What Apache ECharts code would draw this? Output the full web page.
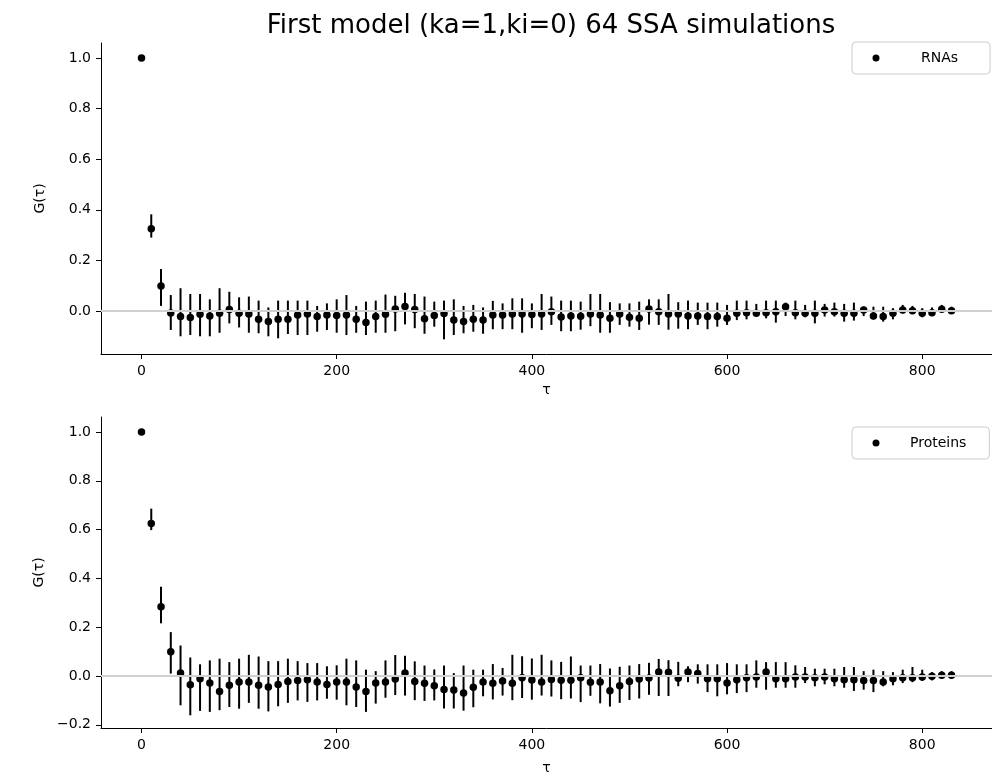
<!DOCTYPE html>
<html>
<head>
<meta charset="utf-8">
<script src="https://cdn.jsdelivr.net/npm/echarts@6/dist/echarts.min.js"></script>
<style>
html,body{margin:0;padding:0;background:#fff;}
#chart{width:992px;height:783px;}
</style>
</head>
<body>
<div id="chart"></div>
<script>
const titleText = 'First model (ka=1,ki=0) 64 SSA simulations';
const tau = [0,10,20,30,40,50,60,70,80,90,100,110,120,130,140,150,160,170,180,190,200,210,220,230,240,250,260,270,280,290,300,310,320,330,340,350,360,370,380,390,400,410,420,430,440,450,460,470,480,490,500,510,520,530,540,550,560,570,580,590,600,610,620,630,640,650,660,670,680,690,700,710,720,730,740,750,760,770,780,790,800,810,820,830];

const rnaMean = [1.0,0.325,0.099,-0.008,-0.022,-0.026,-0.013,-0.02,-0.009,0.006,-0.009,-0.012,-0.033,-0.042,-0.033,-0.033,-0.016,-0.012,-0.022,-0.016,-0.018,-0.016,-0.033,-0.046,-0.022,-0.013,0.008,0.018,0.006,-0.031,-0.018,-0.01,-0.036,-0.042,-0.033,-0.036,-0.016,-0.016,-0.012,-0.012,-0.014,-0.012,-0.003,-0.024,-0.02,-0.021,-0.012,-0.016,-0.029,-0.012,-0.025,-0.029,0.008,-0.003,-0.012,-0.012,-0.02,-0.02,-0.022,-0.022,-0.029,-0.009,-0.007,-0.009,-0.007,-0.003,0.017,-0.007,-0.009,-0.009,0.004,-0.003,-0.009,-0.009,0.004,-0.02,-0.022,-0.009,0.004,0.001,-0.009,-0.007,0.007,0.001];
const rnaHigh = [1.0,0.382,0.166,0.063,0.09,0.067,0.067,0.046,0.09,0.076,0.054,0.057,0.041,0.014,0.041,0.041,0.041,0.041,0.02,0.03,0.046,0.063,0.02,0.037,0.041,0.065,0.06,0.072,0.067,0.057,0.037,0.041,0.046,0.02,0.024,0.014,0.04,0.03,0.05,0.05,0.03,0.067,0.057,0.041,0.041,0.037,0.067,0.067,0.035,0.03,0.03,0.037,0.046,0.046,0.067,0.035,0.041,0.033,0.033,0.033,0.024,0.041,0.041,0.028,0.041,0.041,0.033,0.041,0.024,0.041,0.028,0.033,0.028,0.033,0.017,0.017,0.017,0.011,0.024,0.02,0.011,0.014,0.024,0.017];
const rnaLow = [1.0,0.29,0.02,-0.075,-0.1,-0.095,-0.1,-0.1,-0.086,-0.049,-0.065,-0.086,-0.088,-0.1,-0.108,-0.091,-0.095,-0.095,-0.082,-0.075,-0.086,-0.095,-0.086,-0.095,-0.086,-0.086,-0.08,-0.053,-0.068,-0.09,-0.062,-0.112,-0.095,-0.088,-0.082,-0.09,-0.072,-0.072,-0.072,-0.086,-0.068,-0.075,-0.055,-0.08,-0.08,-0.074,-0.06,-0.086,-0.086,-0.055,-0.062,-0.075,-0.054,-0.055,-0.074,-0.07,-0.072,-0.055,-0.072,-0.062,-0.055,-0.036,-0.033,-0.02,-0.029,-0.046,-0.02,-0.033,-0.025,-0.049,-0.022,-0.022,-0.042,-0.038,-0.02,-0.033,-0.042,-0.033,-0.009,-0.009,-0.025,-0.02,-0.003,-0.009];

const protMean = [1.0,0.625,0.284,0.099,0.012,-0.036,-0.011,-0.029,-0.063,-0.038,-0.025,-0.025,-0.038,-0.045,-0.035,-0.022,-0.018,-0.015,-0.025,-0.035,-0.025,-0.025,-0.045,-0.063,-0.029,-0.025,-0.012,0.012,-0.022,-0.03,-0.04,-0.055,-0.057,-0.07,-0.046,-0.024,-0.03,-0.02,-0.03,-0.007,-0.016,-0.024,-0.014,-0.017,-0.017,-0.007,-0.026,-0.024,-0.06,-0.04,-0.022,-0.012,-0.008,0.017,0.015,-0.009,0.016,0.01,-0.011,-0.011,-0.029,-0.015,-0.007,-0.004,0.016,-0.011,-0.011,-0.004,-0.004,-0.007,-0.004,-0.011,-0.015,-0.015,-0.018,-0.018,-0.025,-0.011,-0.007,-0.007,-0.004,-0.001,0.003,0.003];
const protHigh = [1.0,0.686,0.366,0.18,0.125,0.076,0.048,0.064,0.071,0.057,0.071,0.087,0.08,0.061,0.061,0.071,0.061,0.053,0.053,0.04,0.044,0.071,0.064,0.026,0.02,0.064,0.086,0.083,0.06,0.043,0.027,0.043,0.012,0.043,0.026,0.026,0.049,0.033,0.087,0.081,0.072,0.087,0.064,0.058,0.08,0.043,0.043,0.049,0.031,0.038,0.043,0.049,0.054,0.07,0.065,0.058,0.04,0.048,0.048,0.048,0.053,0.048,0.048,0.064,0.057,0.057,0.057,0.044,0.037,0.03,0.03,0.03,0.037,0.037,0.02,0.026,0.02,0.016,0.026,0.037,0.026,0.016,0.02,0.02];
const protLow = [1.0,0.598,0.216,0.01,-0.12,-0.161,-0.143,-0.147,-0.14,-0.127,-0.134,-0.11,-0.134,-0.145,-0.124,-0.11,-0.1,-0.106,-0.1,-0.093,-0.097,-0.12,-0.127,-0.147,-0.113,-0.089,-0.078,-0.08,-0.099,-0.102,-0.1,-0.133,-0.133,-0.142,-0.128,-0.083,-0.096,-0.08,-0.099,-0.09,-0.097,-0.08,-0.084,-0.095,-0.092,-0.107,-0.081,-0.112,-0.125,-0.11,-0.098,-0.092,-0.077,-0.082,-0.082,-0.042,-0.025,-0.031,-0.066,-0.083,-0.075,-0.07,-0.066,-0.048,-0.056,-0.048,-0.048,-0.048,-0.029,-0.042,-0.034,-0.042,-0.048,-0.061,-0.056,-0.066,-0.042,-0.038,-0.029,-0.025,-0.02,-0.018,-0.011,-0.011];

const xTicks = [0,200,400,600,800];
const yTicksTop = [0,0.2,0.4,0.6,0.8,1.0];
const yTicksBottom = [-0.2,0,0.2,0.4,0.6,0.8,1.0];

const FONT = 'DejaVu Sans';
const chart = echarts.init(document.getElementById('chart'), null, {renderer:'canvas'});

function fmtY(v){ return (v < 0 ? '\u2212' : '') + Math.abs(v).toFixed(1); }

function errRender(params, api){
  const x = api.value(0), lo = api.value(1), hi = api.value(2);
  const p1 = api.coord([x, hi]);
  const p2 = api.coord([x, lo]);
  return {type:'line', shape:{x1:p1[0], y1:p1[1], x2:p2[0], y2:p2[1]}, style:{stroke:'#000', lineWidth:2}};
}

function xAxisCfg(gi){
  return {
    type:'value', gridIndex:gi, min:-41.5, max:871.5,
    name:'\u03c4', nameLocation:'middle', nameGap:gi===0?29:33,
    nameTextStyle:{fontFamily:FONT, fontSize:14, color:'#000'},
    axisLine:{show:true, onZero:false, lineStyle:{color:'#000', width:1}},
    axisTick:{show:true, inside:false, length:5, lineStyle:{color:'#000', width:1}, customValues:xTicks},
    axisLabel:{fontFamily:FONT, fontSize:14, color:'#000', margin:10, customValues:xTicks},
    splitLine:{show:false}
  };
}
function yAxisCfg(gi, mn, mx, ticks){
  return {
    type:'value', gridIndex:gi, min:mn, max:mx,
    name:'G(\u03c4)', nameLocation:'middle', nameGap:54, nameRotate:90,
    nameTextStyle:{fontFamily:FONT, fontSize:14, color:'#000'},
    axisLine:{show:true, onZero:false, lineStyle:{color:'#000', width:1}},
    axisTick:{show:true, inside:false, length:5, lineStyle:{color:'#000', width:1}, customValues:ticks},
    axisLabel:{fontFamily:FONT, fontSize:14, color:'#000', margin:10, formatter:fmtY, customValues:ticks},
    splitLine:{show:false}
  };
}
function errSeries(name, gi, lo, hi){
  return {
    type:'custom', name:name, xAxisIndex:gi, yAxisIndex:gi, renderItem:errRender,
    encode:{x:0, y:[1,2]}, z:2, silent:true,
    data: tau.map((t,i)=>[t, lo[i], hi[i]]),
    markLine:{silent:true, symbol:['none','none'], label:{show:false},
      lineStyle:{color:'#d0d0d0', width:2, type:'solid', opacity:1}, emphasis:{disabled:true},
      data:[{yAxis:0}]}
  };
}
function dotSeries(name, gi, mean){
  return {
    type:'scatter', name:name, xAxisIndex:gi, yAxisIndex:gi, symbol:'circle', symbolSize:7.5,
    itemStyle:{color:'#000', opacity:1}, z:1, silent:true,
    data: tau.map((t,i)=>[t, mean[i]])
  };
}
function legendCfg(name, top, textPad){
  return {
    data:[name], left:852, top:top, orient:'horizontal',
    icon:'circle', itemWidth:7, itemHeight:7,
    padding:[8, 990 - (852 + 20.5 + 7 + 5 + textPad + (name==='RNAs'?37:57)), 8, 20.5],
    borderColor:'#cccccc', borderWidth:1, borderRadius:4, backgroundColor:'rgba(255,255,255,0.8)',
    selectedMode:false,
    itemStyle:{opacity:1},
    textStyle:{fontFamily:FONT, fontSize:14, color:'#000', lineHeight:16, padding:[0,0,0,textPad]}
  };
}

const option = {
  animation:false,
  backgroundColor:'#fff',
  graphic:[{type:'text', x:551, y:26, style:{text:titleText, font:'26px "DejaVu Sans"', fill:'#000', textAlign:'center', textVerticalAlign:'middle'}}],
  grid:[
    {left:101, top:43, width:901, height:311},
    {left:101, top:417, width:901, height:311}
  ],
  xAxis:[xAxisCfg(0), xAxisCfg(1)],
  yAxis:[yAxisCfg(0, -0.17, 1.059, yTicksTop), yAxisCfg(1, -0.213, 1.0615, yTicksBottom)],
  legend:[legendCfg('RNAs', 42, 36.5), legendCfg('Proteins', 427, 25.5)],
  series:[
    dotSeries('RNAs', 0, rnaMean),
    errSeries('RNAs error', 0, rnaLow, rnaHigh),
    dotSeries('Proteins', 1, protMean),
    errSeries('Proteins error', 1, protLow, protHigh)
  ]
};
chart.setOption(option);
</script>
</body>
</html>
